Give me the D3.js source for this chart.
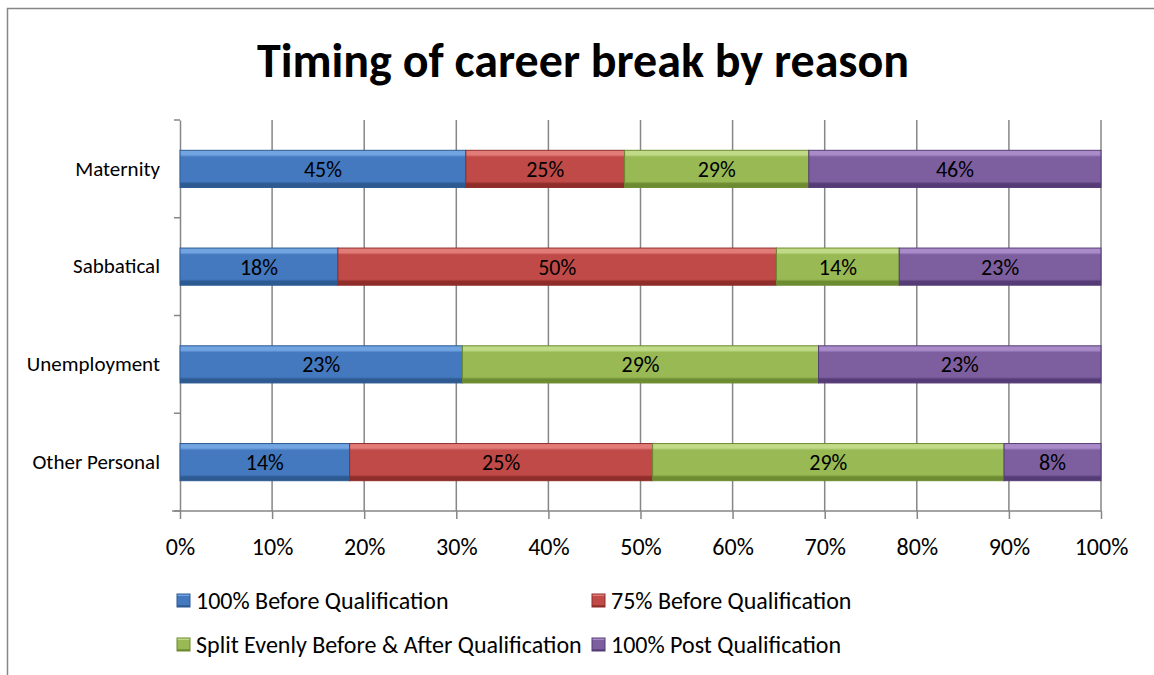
<!DOCTYPE html>
<html>
<head>
<meta charset="utf-8">
<script src="https://cdn.jsdelivr.net/npm/d3@7"></script>
<style>
  body { margin: 0; background: #fff; }
  svg { display: block; }
  svg text { font-family: Carlito, Calibri, Lato, "Noto Sans", sans-serif; }
</style>
</head>
<body>
<svg id="chart" width="1154" height="675"></svg>
<script>
// Chart data
const categories = ["Maternity", "Sabbatical", "Unemployment", "Other Personal"];
const seriesNames = ["100% Before Qualification", "75% Before Qualification",
  "Split Evenly Before & After Qualification", "100% Post Qualification"];
const before100 = [45, 18, 23, 14];
const before75 = [25, 50, 0, 25];
const splitEven = [29, 14, 29, 29];
const post100 = [46, 23, 23, 8];
const xTicks = [0, 0.1, 0.2, 0.3, 0.4, 0.5, 0.6, 0.7, 0.8, 0.9, 1];

const colors = ["#4479bf", "#c04a47", "#98b954", "#7d5fa0"];
const lightC = ["#72a4e2", "#e27c79", "#c0da88", "#a88bc8"];
const darkC = ["#2c5a91", "#8f2d2a", "#6d8b31", "#553c76"];

const svg = d3.select("#chart");
const margin = {left: 180, right: 1101, top: 120, bottom: 511};

// outer frame
svg.append("rect").attr("x", 7.5).attr("y", 8.5).attr("width", 1160).attr("height", 700)
  .attr("fill", "none").attr("stroke", "#868686").attr("stroke-width", 1.5);

svg.append("text").attr("x", 583).attr("y", 77).attr("text-anchor", "middle")
  .attr("font-size", 48).attr("font-weight", "bold").text("Timing of career break by reason");

// build rows
const rows = categories.map((c, i) => {
  const vals = [before100[i], before75[i], splitEven[i], post100[i]];
  const total = d3.sum(vals);
  let acc = 0;
  return {cat: c, segs: vals.map((v, k) => {
    const s = {k: k, v: v, x0: acc / total, x1: (acc + v) / total};
    acc += v;
    return s;
  })};
});

const x = d3.scaleLinear().domain([0, 1]).range([margin.left, margin.right]);
const y = d3.scaleBand().domain(categories).range([margin.top, margin.bottom]).paddingInner(0.62).paddingOuter(0.31);

// gradients
const defs = svg.append("defs");
colors.forEach((c, k) => {
  const g = defs.append("linearGradient").attr("id", "g" + k).attr("x1", 0).attr("x2", 0).attr("y1", 0).attr("y2", 1);
  g.append("stop").attr("offset", "0").attr("stop-color", lightC[k]);
  g.append("stop").attr("offset", "0.12").attr("stop-color", lightC[k]);
  g.append("stop").attr("offset", "0.18").attr("stop-color", c);
  g.append("stop").attr("offset", "0.84").attr("stop-color", c);
  g.append("stop").attr("offset", "0.9").attr("stop-color", darkC[k]);
  g.append("stop").attr("offset", "1").attr("stop-color", darkC[k]);
});

// gridlines
svg.append("g").selectAll("line").data(xTicks.slice(1)).join("line")
  .attr("x1", d => x(d)).attr("x2", d => x(d))
  .attr("y1", margin.top).attr("y2", margin.bottom)
  .attr("stroke", "#868686").attr("stroke-width", 1.5);

// x axis
const xAxis = svg.append("g").attr("transform", `translate(0,${margin.bottom})`)
  .call(d3.axisBottom(x).tickValues(xTicks).tickFormat(d3.format(".0%")).tickSize(8).tickPadding(19));
xAxis.attr("font-family", null).attr("font-size", 24);
xAxis.select(".domain").attr("stroke", "#868686").attr("stroke-width", 1.5).attr("d", `M${margin.left - 8},0H${margin.right}`);
xAxis.selectAll(".tick line").attr("stroke", "#868686").attr("stroke-width", 1.5);
xAxis.selectAll(".tick text").attr("fill", "#000");

// y axis
const yAxis = svg.append("g").attr("transform", `translate(${margin.left},0)`)
  .call(d3.axisLeft(y).tickSize(0).tickPadding(20));
yAxis.attr("font-family", null).attr("font-size", 21);
yAxis.select(".domain").attr("stroke", "#868686").attr("stroke-width", 1.5);
yAxis.selectAll(".tick text").attr("fill", "#000");
svg.append("g").selectAll("line").data(d3.range(categories.length + 1)).join("line")
  .attr("x1", margin.left - 6).attr("x2", margin.left)
  .attr("y1", i => margin.top + i * (margin.bottom - margin.top) / categories.length)
  .attr("y2", i => margin.top + i * (margin.bottom - margin.top) / categories.length)
  .attr("stroke", "#868686").attr("stroke-width", 1.5);

// bars
const rowG = svg.append("g").selectAll("g").data(rows).join("g")
  .attr("transform", d => `translate(0,${y(d.cat)})`);
const seg = rowG.selectAll("g").data(d => d.segs.filter(s => s.v > 0)).join("g");
seg.append("rect")
  .attr("x", d => x(d.x0)).attr("width", d => x(d.x1) - x(d.x0))
  .attr("y", 0).attr("height", y.bandwidth())
  .attr("fill", d => `url(#g${d.k})`)
  .attr("stroke", d => darkC[d.k]).attr("stroke-width", 1);
seg.append("text")
  .attr("x", d => (x(d.x0) + x(d.x1)) / 2).attr("y", y.bandwidth() / 2 + 8)
  .attr("text-anchor", "middle").attr("font-size", 22)
  .text(d => d.v + "%");

// legend
const legendPos = [[177, 601], [592, 601], [177, 645], [592, 645]];
const leg = svg.append("g").selectAll("g").data(seriesNames).join("g")
  .attr("transform", (d, i) => `translate(${legendPos[i][0]},${legendPos[i][1]})`);
leg.append("rect").attr("x", 0).attr("y", -7).attr("width", 13).attr("height", 13)
  .attr("fill", (d, i) => `url(#g${i})`).attr("stroke", (d, i) => darkC[i]);
leg.append("text").attr("x", 19).attr("y", 8).attr("font-size", 24).text(d => d);
</script>
</body>
</html>
